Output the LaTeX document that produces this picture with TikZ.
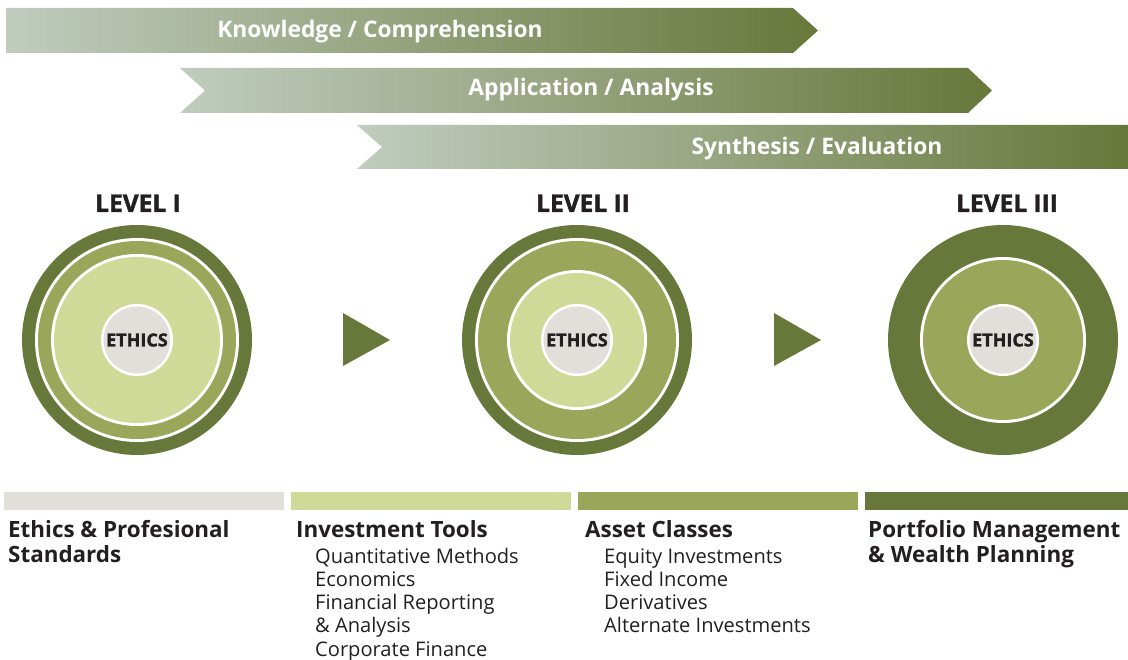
\documentclass[tikz,border=0pt]{standalone}
\usepackage{fontspec}
\setmainfont{Open Sans}
\newfontfamily\heavyfont{Open Sans}[BoldFeatures={FakeBold=1.6}]
\usetikzlibrary{positioning}
\definecolor{darkolive}{RGB}{104,120,58}
\definecolor{midolive}{RGB}{154,166,90}
\definecolor{lightolive}{RGB}{208,218,152}
\definecolor{ethicsgray}{RGB}{226,222,217}
\definecolor{bannerlight}{RGB}{192,204,190}
\definecolor{inkblack}{RGB}{35,31,32}

\begin{document}
\begin{tikzpicture}[x=1pt,y=-1pt,
    banner/.style={left color=bannerlight,right color=darkolive,draw=none},
    bannertext/.style={text=white,anchor=base,font=\fontsize{22.8}{22.8}\selectfont\bfseries},
    levellabel/.style={text=inkblack,anchor=base,font=\fontsize{24.5}{24.5}\selectfont\heavyfont\bfseries},
    ethics/.style={circle,fill=ethicsgray,draw=white,line width=2.5pt,minimum size=69.5pt,
      inner sep=0pt,text=inkblack,font=\fontsize{18}{18}\selectfont\heavyfont\bfseries},
    areahead/.style={text=inkblack,anchor=base west,inner sep=0pt,font=\fontsize{22.4}{22.4}\selectfont\bfseries},
    topic/.style={text=inkblack,anchor=base west,inner sep=0pt,font=\fontsize{20.1}{20.1}\selectfont}]
  \useasboundingbox (0,0) rectangle (1128,660);
  % Banners
  \shade[banner] (6,8) -- (793,8) -- (818,30.5) -- (793,53) -- (6,53) -- cycle;
  \shade[banner] (180,68) -- (968,68) -- (992,90.5) -- (968,113) -- (180,113) -- (205,90.5) -- cycle;
  \shade[banner] (357,125) -- (1128,125) -- (1128,169) -- (357,169) -- (382,147) -- cycle;
  \node[bannertext] (know) at (380,38) {Knowledge / Comprehension};
  \node[bannertext] (appl) at (591,96) {Application / Analysis};
  \node[bannertext] (synth) at (817,155) {Synthesis / Evaluation};
  % Levels
  \node[levellabel] (lvl1) at (138,212) {LEVEL I};
  \node[levellabel] (lvl2) at (583,212) {LEVEL II};
  \node[levellabel] (lvl3) at (1007,212) {LEVEL III};
  % Rings
  \coordinate (c1) at (137,340);
  \coordinate (c2) at (577,340);
  \coordinate (c3) at (1003,340);
  \fill[darkolive] (c1) circle (115);
  \fill[white] (c1) circle (102);
  \fill[midolive] (c1) circle (99);
  \fill[white] (c1) circle (86);
  \fill[lightolive] (c1) circle (83);
  \fill[darkolive] (c2) circle (115);
  \fill[white] (c2) circle (102);
  \fill[midolive] (c2) circle (99);
  \fill[white] (c2) circle (70);
  \fill[lightolive] (c2) circle (67);
  \fill[darkolive] (c3) circle (115);
  \fill[white] (c3) circle (83);
  \fill[midolive] (c3) circle (80);
  \foreach \i in {1,2,3}
    \node[ethics] (eth\i) at (c\i) {ETHICS};
  % Steps
  \fill[darkolive] (343,313) -- (390,340) -- (343,366) -- cycle;
  \fill[darkolive] (774,313) -- (821,340) -- (774,366) -- cycle;
  % Bars
  \fill[ethicsgray] (4,492) rectangle (284,510);
  \fill[lightolive] (291,492) rectangle (571,510);
  \fill[midolive] (578,492) rectangle (858,510);
  \fill[darkolive] (865,492) rectangle (1128,510);
  % Areas
  \node[areahead] (ethhead) at (8,537) {Ethics \& Profesional};
  \node[areahead] (ethhead2) at (8,562) {Standards};
  \node[areahead] (toolhead) at (296,537) {Investment Tools};
  \node[areahead] (assethead) at (585,537) {Asset Classes};
  \node[areahead] (pmhead) at (868,537) {Portfolio Management};
  \node[areahead] (pmhead2) at (868,562) {\& Wealth Planning};
  \foreach \t [count=\i] in {Quantitative Methods,Economics,Financial Reporting,\& Analysis,Corporate Finance}
    \node[topic] (tool\i) at (315,{563+23.3*(\i-1)}) {\t};
  \foreach \t [count=\i] in {Equity Investments,Fixed Income,Derivatives,Alternate Investments}
    \node[topic] (asset\i) at (604,{563+23.3*(\i-1)}) {\t};
\end{tikzpicture}
\end{document}
